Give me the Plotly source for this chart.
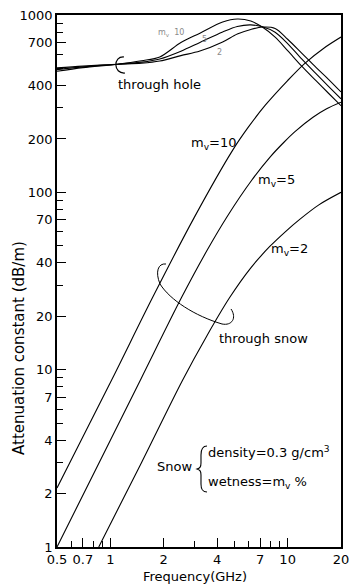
import math
import plotly.graph_objects as go

# ---------------- data ----------------
# attenuation through snow, frequency in GHz, attenuation in dB/m
snow_f_10 = [0.5, 1.02, 1.73, 2.97, 4.9, 6.0, 7.5, 10, 12.5, 16, 20]
snow_v_10 = [2.15, 8.8, 25.5, 72, 173, 233, 311, 427, 534, 650, 751]
snow_f_5 = [0.5, 1.0, 1.49, 2.52, 3.5, 4.59, 6.27, 8.0, 9.5, 11, 13.9, 16.5, 20]
snow_v_5 = [1.0, 4.0, 8.9, 25.5, 46.8, 73.8, 117, 159, 191, 220, 265, 295, 322]
snow_f_2 = [0.86, 1.5, 2.55, 3.5, 4.71, 6.2, 7.93, 9.8, 11.7, 15, 20]
snow_v_2 = [1.0, 3.0, 8.7, 15.5, 25.5, 37.5, 49.5, 60.5, 70.4, 85, 100]

# attenuation through the hole
hole_f = [0.5, 0.7, 1.1, 1.5, 1.9, 2.5, 3.2, 4.3, 5.2, 6.2, 7.2, 8.5, 10, 12, 14.5, 17, 20]
hole_v_10 = [482, 505, 528, 552, 580, 700, 790, 913, 950, 925, 855, 750, 630, 515, 425, 362, 308]
hole_v_5 = [492, 510, 528, 542, 565, 625, 700, 802, 862, 880, 858, 800, 690, 565, 465, 396, 337]
hole_v_2 = [503, 515, 528, 535, 550, 590, 626, 704, 781, 829, 855, 840, 730, 610, 505, 434, 368]

x_tick_vals = [0.5, 0.7, 1, 2, 4, 7, 10, 20]
x_tick_text = ["0.5", "0.7", "1", "2", "4", "7", "10", "20"]
x_minor_vals = [0.6, 0.8, 0.9, 3, 5, 6, 8, 9]
y_tick_vals = [1, 2, 4, 7, 10, 20, 40, 70, 100, 200, 400, 700, 1000]
y_tick_text = [str(v) for v in y_tick_vals]
y_minor_vals = [3, 5, 6, 8, 9, 30, 50, 60, 80, 90, 300, 500, 600, 800, 900]

# ---------------- layout geometry ----------------
W, H = 352, 584
L, R, T, B = 57, 11, 15, 37
PW, PH = W - L - R, H - T - B
FONT = "DejaVu Sans"


def px(xa, ya):
    """window pixel -> paper coordinates"""
    return (xa - L) / PW, (H - B - ya) / PH


def path(cmds):
    out = []
    for cmd, pts in cmds:
        coords = []
        for (a, b) in pts:
            u, v = px(a, b)
            coords.append(f"{u:.4f},{v:.4f}")
        out.append(cmd + " " + " ".join(coords))
    return " ".join(out)


fig = go.Figure()
for f, v in [(snow_f_10, snow_v_10), (snow_f_5, snow_v_5), (snow_f_2, snow_v_2),
             (hole_f, hole_v_10), (hole_f, hole_v_5), (hole_f, hole_v_2)]:
    fig.add_trace(go.Scatter(x=f, y=v, mode="lines",
                             line=dict(color="black", width=1.1, shape="spline", smoothing=0.9),
                             showlegend=False, hoverinfo="skip"))

annotations = []


def text(t, xa, ya, size=13, xanchor="left", color="black", **kw):
    u, v = px(xa, ya)
    annotations.append(dict(text=t, x=u, y=v, xref="paper", yref="paper", showarrow=False,
                            xanchor=xanchor, yanchor="middle",
                            font=dict(family=FONT, size=size, color=color), **kw))


text("through hole", 116, 85)
text("m<sub>v</sub>=10", 189, 143)
text("m<sub>v</sub>=5", 256, 181)
text("m<sub>v</sub>=2", 269, 250)
text("through snow", 217, 338)
text("Snow", 155, 466)
text("density=0.3 g/cm<sup>3</sup>", 206, 452)
text("wetness=m<sub>v</sub> %", 206, 482)
text("m<sub>v</sub>  10", 156, 33, size=8, color="#8a8a8a")
text("5", 200, 40, size=8, color="#8a8a8a")
text("2", 215, 52, size=8, color="#8a8a8a")
text("Frequency(GHz)", 195, 576, xanchor="center")
text("Attenuation constant (dB/m)", 19, 348, size=15, xanchor="center", textangle=-90)

shapes = [
    # "C" bracket through hole
    dict(type="path", xref="paper", yref="paper", line=dict(color="black", width=1.2),
         path=path([("M", [(124, 57)]), ("C", [(113, 56), (113, 74), (125, 73)])])),
    # bracket through snow
    dict(type="path", xref="paper", yref="paper", line=dict(color="black", width=1),
         path=path([("M", [(166, 264)]), ("C", [(158, 263), (155, 272), (160, 284)]),
                    ("C", [(170, 300), (195, 316), (222, 324)]),
                    ("C", [(232, 326), (237, 318), (231, 309)])])),
    # Snow brace
    dict(type="path", xref="paper", yref="paper", line=dict(color="black", width=1.1),
         path=path([("M", [(207, 446)]), ("C", [(202, 446), (201, 450), (201, 455)]),
                    ("L", [(201, 463)]), ("C", [(201, 467), (200, 468), (197, 469)]),
                    ("C", [(200, 470), (201, 471), (201, 475)]),
                    ("L", [(201, 484)]), ("C", [(201, 489), (202, 492), (207, 492)])])),
]

axis_common = dict(type="log", showgrid=False, zeroline=False, showline=True, linecolor="black",
                   linewidth=1.5, mirror=True, ticks="inside", ticklen=9, tickwidth=1,
                   tickcolor="black", tickmode="array", automargin=False,
                   ticklabeloverflow="allow",
                   tickfont=dict(family=FONT, size=13, color="black"))

fig.update_layout(
    width=W, height=H, margin=dict(l=L, r=R, t=T, b=B),
    paper_bgcolor="white", plot_bgcolor="white",
    xaxis=dict(axis_common, range=[math.log10(0.5), math.log10(20)],
               tickvals=x_tick_vals, ticktext=x_tick_text,
               minor=dict(tickmode="array", tickvals=x_minor_vals, ticks="inside",
                          ticklen=6, tickcolor="black", showgrid=False)),
    yaxis=dict(axis_common, range=[0, 3], tickvals=y_tick_vals, ticktext=y_tick_text,
               minor=dict(tickmode="array", tickvals=y_minor_vals, ticks="inside",
                          ticklen=6, tickcolor="black", showgrid=False)),
    annotations=annotations, shapes=shapes, showlegend=False,
)

# remove the browser's default page margin so the figure sits at the window's corner
fig.write_html("out.html", config={"displayModeBar": False},
               post_script="document.body.style.margin='0';document.body.style.overflow='hidden';")
